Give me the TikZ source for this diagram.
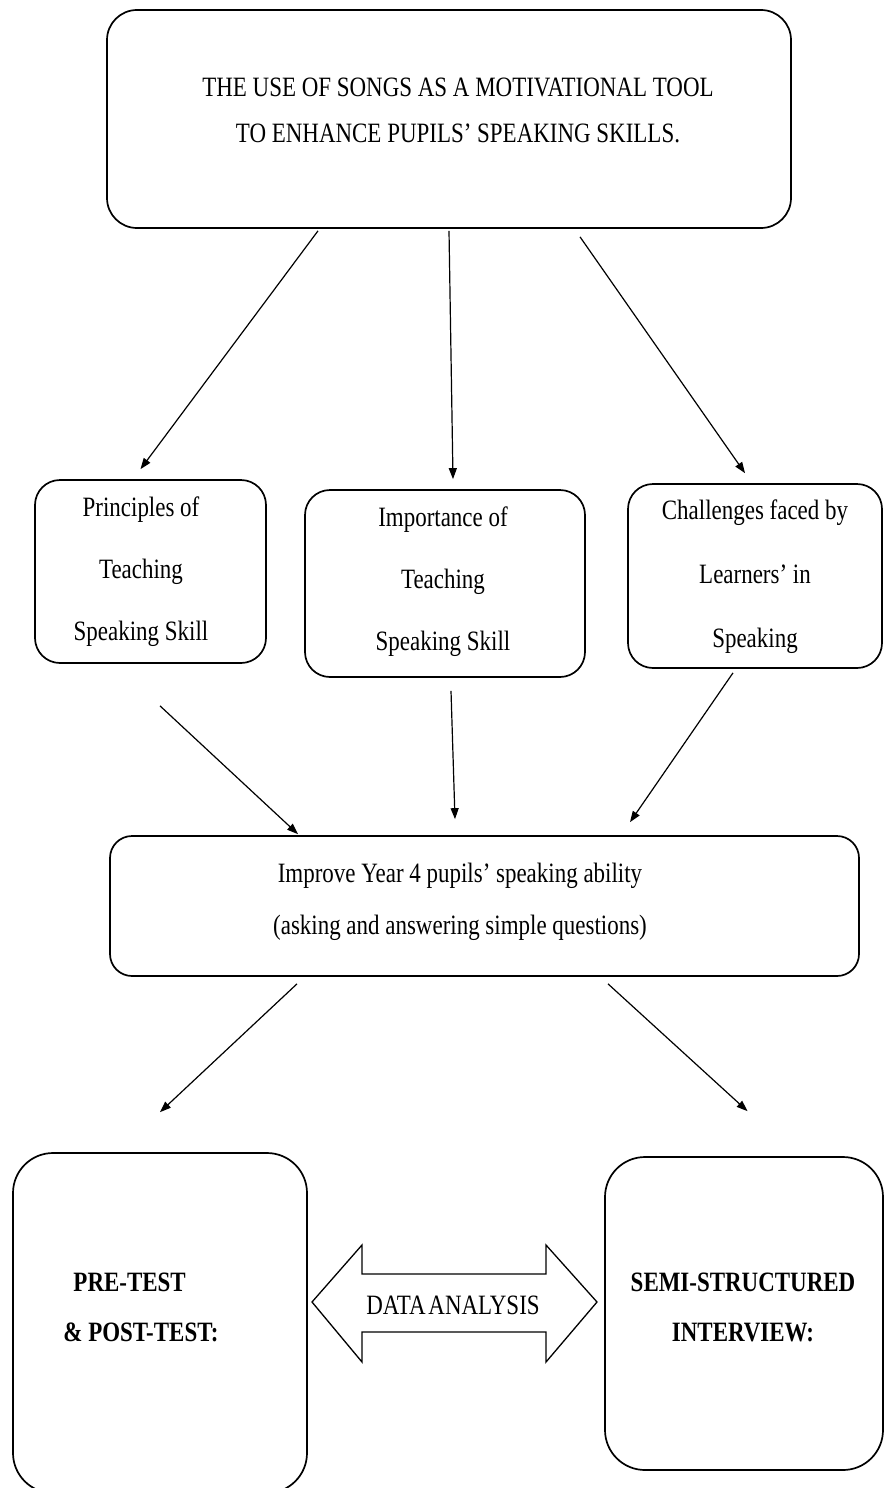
\documentclass[tikz,border=0pt]{standalone}
\usepackage{fontspec}
\setmainfont{Liberation Serif}[FakeStretch=0.82]
\usetikzlibrary{arrows.meta}
\begin{document}
\begin{tikzpicture}[x=1pt,y=-1pt,
  box/.style={draw,line width=1.7pt,rounded corners=30pt,inner sep=0pt},
  txt/.style={align=center,inner sep=0pt},
  arr/.style={-{Triangle[length=11pt,width=8pt]},line width=1.2pt},
  bold/.style={txt,font=\fontsize{28}{50}\selectfont\bfseries}
]
\useasboundingbox (0,0) rectangle (885,1488);
% top box
\node[box,minimum width=684pt,minimum height=218pt] (top) at (449,119) {};
\node[txt,font=\fontsize{28}{46}\selectfont] (toptxt) at (458,110) {THE USE OF SONGS AS A MOTIVATIONAL TOOL\\TO ENHANCE PUPILS’ SPEAKING SKILLS.};
% middle boxes
\node[box,minimum width=231pt,minimum height=183pt,rounded corners=25pt] (p1) at (150.5,571.5) {};
\node[txt,font=\fontsize{28}{62}\selectfont] (p1t) at (141,572) {Principles of\\Teaching\\Speaking Skill};
\node[box,minimum width=280pt,minimum height=187pt,rounded corners=25pt] (p2) at (445,583.5) {};
\node[txt,font=\fontsize{28}{62}\selectfont] (p2t) at (443,582) {Importance of\\Teaching\\Speaking Skill};
\node[box,minimum width=254pt,minimum height=184pt,rounded corners=25pt] (p3) at (755,576) {};
\node[txt,font=\fontsize{28}{64}\selectfont] (p3t) at (755,577) {Challenges faced by\\Learners’ in\\Speaking};
% improve box
\node[box,minimum width=749pt,minimum height=140pt,rounded corners=22pt] (imp) at (484.5,906) {};
\node[txt,font=\fontsize{28}{52}\selectfont] (impt) at (460,902) {Improve Year 4 pupils’ speaking ability\\(asking and answering simple questions)};
% bottom boxes
\node[box,minimum width=294pt,minimum height=340pt,rounded corners=40pt] (pre) at (160,1323) {};
\node[bold,align=left] (pret) at (141,1307) {\hspace*{10pt}PRE-TEST\\\& POST-TEST:};
\node[box,minimum width=278pt,minimum height=313pt,rounded corners=40pt] (semi) at (744,1313.5) {};
\node[bold] (semit) at (743,1307) {SEMI-STRUCTURED\\INTERVIEW:};
% double arrow
\draw[line width=1.3pt] (312,1302) -- (362,1245) -- (362,1274) -- (546,1274) -- (546,1245) -- (597,1302)
  -- (546,1362) -- (546,1332) -- (362,1332) -- (362,1362) -- cycle;
\node[txt,font=\fontsize{28}{30}\selectfont] (da) at (453,1305) {DATA\hspace{-3pt} ANALYSIS};
% arrows
\draw[arr] ([xshift=-131pt,yshift=-2pt]top.south) -- ([xshift=-10pt,yshift=10pt]p1.north);
\draw[arr] ([xshift=0pt,yshift=-2pt]top.south) -- ([xshift=8pt,yshift=10pt]p2.north);
\draw[arr] ([xshift=131pt,yshift=-8pt]top.south) -- ([xshift=-10pt,yshift=10pt]p3.north);
\draw[arr] ([xshift=9.5pt,yshift=-42pt]p1.south) -- ([xshift=-186.5pt,yshift=1pt]imp.north);
\draw[arr] ([xshift=6pt,yshift=-13pt]p2.south) -- ([xshift=-29.5pt,yshift=16pt]imp.north);
\draw[arr] ([xshift=-22pt,yshift=-4pt]p3.south) -- ([xshift=145.5pt,yshift=13pt]imp.north);
\draw[arr] ([xshift=-187.5pt,yshift=-7pt]imp.south) -- ([xshift=0pt,yshift=40pt]pre.north);
\draw[arr] ([xshift=123.5pt,yshift=-7pt]imp.south) -- ([xshift=3.5pt,yshift=45pt]semi.north);
\end{tikzpicture}
\end{document}
